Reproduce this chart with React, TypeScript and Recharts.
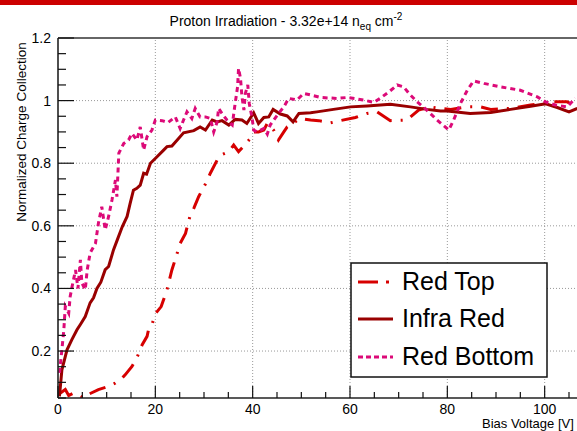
import React from 'react';
import { LineChart, Line, XAxis, YAxis, ReferenceLine } from 'recharts';

// ---- Data (bias voltage [V] -> normalized charge collection) ----
const redTopV = [0.5, 1.5, 2.2, 3.2, 4.2, 5.2, 6.3, 8.3, 10.4, 11.8, 13.2, 13.8, 15.2, 16.2, 17.3, 18.3, 18.6, 19.3, 20, 21.2, 22.4, 23.4, 24.5, 25.1, 26.2, 27.1, 27.9, 28.9, 30.3, 31.3, 32.7, 33.4, 35.1, 36.1, 37.1, 38.2, 39.5, 40.2, 41.2, 42.3, 43, 44.3, 45.3, 46.4, 47.1, 49.8, 51.9, 53.6, 56, 58, 61.1, 63.5, 65.6, 68.3, 71.7, 74.1, 76.5, 78.6, 80.7, 84.1, 86.8, 88.9, 93, 97.1, 100.2, 101.9, 104.6, 106.7];
const redTopQ = [0.066, 0.077, 0.058, 0.066, 0.06, 0.05, 0.062, 0.077, 0.087, 0.098, 0.114, 0.124, 0.151, 0.178, 0.22, 0.247, 0.268, 0.284, 0.319, 0.342, 0.396, 0.459, 0.513, 0.544, 0.576, 0.63, 0.656, 0.693, 0.734, 0.768, 0.81, 0.826, 0.837, 0.858, 0.837, 0.855, 0.879, 0.9, 0.9, 0.906, 0.927, 0.906, 0.874, 0.9, 0.916, 0.943, 0.938, 0.936, 0.929, 0.936, 0.946, 0.959, 0.964, 0.936, 0.938, 0.97, 0.98, 0.975, 0.972, 0.98, 0.98, 0.972, 0.975, 0.986, 0.991, 0.996, 0.996, 0.98];

const infraRedV = [0.3, 0.8, 1.85, 2.8, 3.9, 4.6, 5.6, 6.6, 7.3, 8.0, 8.8, 9.7, 10.4, 11.4, 12.3, 13.2, 14.2, 14.8, 15.5, 16.2, 16.9, 17.6, 18.2, 19.0, 20.3, 21.7, 22.4, 23.4, 24.5, 25.8, 27.9, 29.2, 30.3, 31.7, 32.7, 33.7, 35.1, 36.4, 37.8, 38.8, 40.2, 41.2, 42.3, 43.3, 44.2, 45.7, 47.1, 48.3, 49.5, 51.9, 53.2, 56.6, 60.1, 63.5, 68.3, 72.4, 75.8, 78.6, 80, 84.7, 88.9, 93, 97.1, 100.2, 102.6, 105, 106.7];
const infraRedQ = [0.055, 0.14, 0.204, 0.235, 0.268, 0.285, 0.31, 0.354, 0.37, 0.4, 0.42, 0.46, 0.47, 0.523, 0.56, 0.597, 0.63, 0.67, 0.714, 0.72, 0.73, 0.768, 0.765, 0.8, 0.82, 0.842, 0.853, 0.855, 0.874, 0.897, 0.904, 0.916, 0.906, 0.938, 0.932, 0.936, 0.922, 0.94, 0.938, 0.927, 0.961, 0.927, 0.946, 0.948, 0.972, 0.957, 0.951, 0.932, 0.959, 0.961, 0.964, 0.972, 0.98, 0.983, 0.988, 0.98, 0.972, 0.967, 0.967, 0.959, 0.962, 0.972, 0.982, 0.99, 0.978, 0.964, 0.975];

const redBottomV = [0.3, 0.8, 1.2, 1.5, 2.2, 2.5, 2.9, 3.6, 4.1, 4.6, 4.9, 5.6, 6.0, 6.6, 7.7, 8.3, 9.0, 9.7, 10.4, 11.1, 11.8, 12.1, 12.5, 13.5, 14.5, 15.2, 16.2, 16.9, 17.6, 18.3, 19.3, 20, 21.4, 22.6, 24.1, 25.1, 25.8, 26.5, 27.5, 28.2, 29.2, 30.3, 31.3, 32, 32.7, 33, 33.7, 34.7, 35.8, 36.4, 36.9, 37.1, 37.5, 37.8, 38.2, 38.5, 39, 39.3, 39.9, 40.2, 40.9, 42.3, 43, 43.6, 45.3, 46.4, 47.4, 49.1, 50.5, 51.9, 53.9, 57.3, 59.4, 62.8, 64.9, 66.6, 68, 69.7, 71, 72.4, 73.8, 75.2, 76.5, 77.9, 80.3, 81.3, 82.7, 84.1, 85.4, 87.5, 90.9, 95, 98.5, 100.2, 102.2, 104.6, 106.3];
const redBottomQ = [0.13, 0.204, 0.268, 0.342, 0.321, 0.374, 0.406, 0.459, 0.4, 0.491, 0.418, 0.396, 0.459, 0.513, 0.544, 0.608, 0.661, 0.587, 0.63, 0.683, 0.746, 0.693, 0.832, 0.863, 0.874, 0.895, 0.874, 0.916, 0.842, 0.885, 0.906, 0.938, 0.936, 0.93, 0.948, 0.911, 0.938, 0.964, 0.943, 0.975, 0.948, 0.948, 0.943, 0.9, 0.932, 0.975, 0.959, 0.938, 0.922, 0.991, 1.044, 1.103, 1.071, 1.012, 0.97, 1.023, 1.05, 0.991, 0.943, 0.906, 0.9, 0.911, 0.893, 0.922, 0.959, 0.98, 1.007, 1.002, 1.023, 1.018, 1.01, 1.007, 1.01, 1.002, 0.994, 1.012, 1.028, 1.05, 1.044, 1.018, 0.996, 0.978, 0.959, 0.938, 0.906, 0.938, 0.991, 1.033, 1.063, 1.055, 1.044, 1.033, 1.012, 0.996, 0.986, 0.98, 1.007];

const xTicks = [0, 5, 10, 15, 20, 25, 30, 35, 40, 45, 50, 55, 60, 65, 70, 75, 80, 85, 90, 95, 100, 105, 110];
const xMajor = [0, 20, 40, 60, 80, 100];
const yTicks = [0.05, 0.1, 0.15, 0.2, 0.25, 0.3, 0.35, 0.4, 0.45, 0.5, 0.55, 0.6, 0.65, 0.7, 0.75, 0.8, 0.85, 0.9, 0.95, 1, 1.05, 1.1, 1.15, 1.2];
const yMajor = [0.2, 0.4, 0.6, 0.8, 1, 1.2];
const yMajorLabels = ['0.2', '0.4', '0.6', '0.8', '1', '1.2'];

const seriesNames = ['Red Top', 'Infra Red', 'Red Bottom'];

const toPoints = (vs: number[], qs: number[]) => vs.map((v, i) => ({ v, q: qs[i] }));
const redTopData = toPoints(redTopV, redTopQ);
const infraRedData = toPoints(infraRedV, infraRedQ);
const redBottomData = toPoints(redBottomV, redBottomQ);

const COL_TOP = '#d70000';
const COL_IR = '#990000';
const COL_BOT = '#dc0a78';
const FONT = '"Liberation Sans", Arial, Helvetica, sans-serif';

const XTick = (props: any) => {
  const { x, y, payload } = props;
  const v = payload.value;
  const major = xMajor.includes(v);
  return (
    <g>
      <line x1={x} y1={y} x2={x} y2={y - (major ? 12 : 6)} stroke="#111" strokeWidth={1.2} />
      {major && (
        <text x={x} y={y + 16} textAnchor="middle" fontSize={14} fontFamily={FONT} fill="#000">
          {String(v)}
        </text>
      )}
    </g>
  );
};

const YTick = (props: any) => {
  const { x, y, payload } = props;
  const v = payload.value;
  const idx = yMajor.findIndex((m) => Math.abs(m - v) < 1e-6);
  const major = idx >= 0;
  return (
    <g>
      <line x1={x} y1={y} x2={x + (major ? 16 : 8)} y2={y} stroke="#111" strokeWidth={1.2} />
      {major && (
        <text x={x - 7} y={y + 5} textAnchor="end" fontSize={14} fontFamily={FONT} fill="#000">
          {yMajorLabels[idx]}
        </text>
      )}
    </g>
  );
};

export default function App() {
  return (
    <div style={{ position: 'absolute', left: 0, top: 0, width: 577, height: 431, overflow: 'hidden', background: '#fff' }}>
      <LineChart width={700} height={431} margin={{ top: 38, right: 58, bottom: 0, left: 0 }}>
        <XAxis
          type="number"
          dataKey="v"
          domain={[0, 120]}
          ticks={xTicks}
          interval={0}
          tickSize={0}
          tickMargin={0}
          height={33}
          allowDataOverflow
          axisLine={{ stroke: '#222', strokeWidth: 1.6 }}
          tick={(p: any) => <XTick {...p} />}
        />
        <YAxis
          type="number"
          dataKey="q"
          domain={[0.05, 1.2]}
          ticks={yTicks}
          interval={0}
          tickSize={0}
          tickMargin={0}
          width={58}
          allowDataOverflow
          axisLine={{ stroke: '#222', strokeWidth: 1.6 }}
          tick={(p: any) => <YTick {...p} />}
        />
        {xMajor.filter((v) => v > 0).map((v) => (
          <ReferenceLine key={'gx' + v} x={v} stroke="#999" strokeDasharray="1 2" strokeWidth={1} />
        ))}
        {yMajor.filter((v) => v < 1.2).map((v) => (
          <ReferenceLine key={'gy' + v} y={v} stroke="#999" strokeDasharray="1 2" strokeWidth={1} />
        ))}
        <ReferenceLine y={1.2} stroke="#333" strokeWidth={1.6} />
        <Line
          data={redTopData}
          dataKey="q"
          name={seriesNames[0]}
          type="linear"
          stroke={COL_TOP}
          strokeWidth={3}
          strokeDasharray="17 9 2 9"
          dot={false}
          isAnimationActive={false}
        />
        <Line
          data={infraRedData}
          dataKey="q"
          name={seriesNames[1]}
          type="linear"
          stroke={COL_IR}
          strokeWidth={3}
          dot={false}
          isAnimationActive={false}
        />
        <Line
          data={redBottomData}
          dataKey="q"
          name={seriesNames[2]}
          type="linear"
          stroke={COL_BOT}
          strokeWidth={3}
          strokeDasharray="5 4"
          dot={false}
          isAnimationActive={false}
        />
      </LineChart>
      <svg
        width={577}
        height={431}
        style={{ position: 'absolute', left: 0, top: 0, pointerEvents: 'none' }}
        fontFamily={FONT}
      >
        <rect x={0} y={0} width={577} height={5} fill="#cc0000" />
        <text x={286} y={26} textAnchor="middle" fontSize={14} fill="#000">
          Proton Irradiation - 3.32e+14 n
          <tspan fontSize={10} dy={4}>eq</tspan>
          <tspan dy={-4}> cm</tspan>
          <tspan fontSize={10} dy={-6}>-2</tspan>
        </text>
        <text transform="rotate(-90)" x={-132} y={26} textAnchor="middle" fontSize={13.5} fill="#000">
          Normalized Charge Collection
        </text>
        <text x={482} y={428} fontSize={13} fill="#000">
          Bias Voltage [V]
        </text>
        <rect x={351} y={263} width={196} height={114} fill="#fff" stroke="#111" strokeWidth={1.5} />
        <line x1={358} y1={282} x2={378} y2={282} stroke={COL_TOP} strokeWidth={3} />
        <line x1={386} y1={282} x2={389} y2={282} stroke={COL_TOP} strokeWidth={3} />
        <line x1={358} y1={319} x2={393} y2={319} stroke={COL_IR} strokeWidth={3} />
        <line x1={358} y1={357} x2={393} y2={357} stroke={COL_BOT} strokeWidth={3} strokeDasharray="5 3" />
        <text x={402} y={290} fontSize={25} fill="#000">{seriesNames[0]}</text>
        <text x={402} y={327} fontSize={25} fill="#000">{seriesNames[1]}</text>
        <text x={402} y={365} fontSize={25} fill="#000">{seriesNames[2]}</text>
      </svg>
    </div>
  );
}
